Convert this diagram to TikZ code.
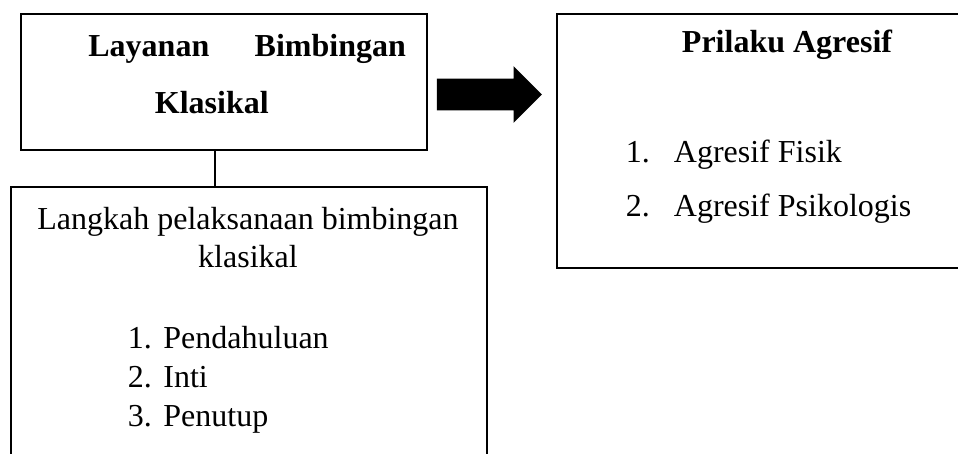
\documentclass[tikz,border=0pt]{standalone}
\usepackage{fontspec}
\setmainfont{Liberation Serif}
\usetikzlibrary{positioning,shapes.arrows}

\begin{document}
\fontsize{16}{19}\selectfont
\begin{tikzpicture}[x=0.5pt, y=-0.5pt, line width=0.9pt]
  \useasboundingbox (0,0) rectangle (958,454);
  % boxes
  \node (layanan) [draw, shape=rectangle, anchor=north west, inner sep=0,
    minimum width=203.2pt, minimum height=68pt] at (20,13) {};
  \node (langkah) [draw, shape=rectangle, anchor=north west, inner sep=0,
    minimum width=238.2pt, minimum height=150pt] at (10,186) {};
  \node (prilaku) [draw, shape=rectangle, anchor=north west, inner sep=0,
    minimum width=232pt, minimum height=127pt] at (556,13) {};
  \node (panah) [single arrow, fill=black, inner xsep=0, inner ysep=7.5pt,
    minimum height=52.5pt, single arrow head extend=6.25pt] at (481.5,94.5) {};
  % texts
  \node (layanan1) [anchor=base west, inner sep=0, font=\bfseries] at (87.5,57)
    {\makebox[158.75pt][s]{Layanan\hfill Bimbingan}};
  \node (layanan2) [anchor=base west, inner sep=0, font=\bfseries] at (154,114) {Klasikal};
  \node (langkah1) [anchor=base, inner sep=0] at (248,230) {Langkah pelaksanaan bimbingan};
  \node (langkah2) [anchor=base, inner sep=0] at (248,267.5) {klasikal};
  \foreach \n/\t/\y in {1/Pendahuluan/348, 2/Inti/387, 3/Penutup/426} {
    \node (langkahno\n) [anchor=base west, inner sep=0] at (127,\y) {\n.};
    \node (langkahitem\n) [anchor=base west, inner sep=0] at (162.5,\y) {\t};
  }
  \node (prilaku1) [anchor=base, inner sep=0, font=\bfseries] at (787,53) {Prilaku Agresif};
  \foreach \n/\t/\y in {1/Agresif Fisik/163, 2/Agresif Psikologis/217} {
    \node (prilakuno\n) [anchor=base west, inner sep=0] at (625,\y) {\n.};
    \node (prilakuitem\n) [anchor=base west, inner sep=0] at (673,\y) {\t};
  }
  % connector
  \draw ([xshift=-4.7pt]layanan.south) -- ([xshift=-4.7pt]layanan.south |- langkah.north);
\end{tikzpicture}
\end{document}
